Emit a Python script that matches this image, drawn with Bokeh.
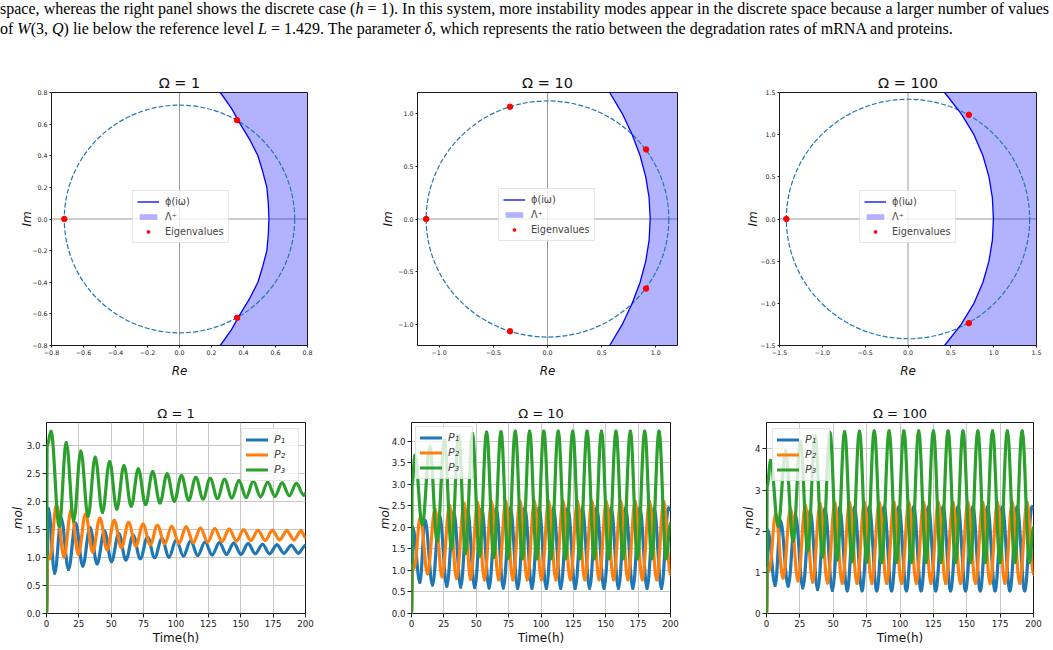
from bokeh.plotting import figure
from bokeh.models import Div, Span, FixedTicker, Legend, LegendItem, ColumnDataSource
from bokeh.layouts import column, row
from bokeh.embed import file_html
from bokeh.resources import INLINE

FONT = "DejaVu Sans"
C_P1, C_P2, C_P3 = "#1f77b4", "#ff7f0e", "#2ca02c"

# ---------------- eigenvalue / stability-region panels ----------------
titles = ["Ω = 1", "Ω = 10", "Ω = 100"]

lim_1 = 0.8
ticks_1 = [-0.8, -0.6, -0.4, -0.2, 0.0, 0.2, 0.4, 0.6, 0.8]
tick_labels_1 = ["−0.8", "−0.6", "−0.4", "−0.2", "0.0", "0.2", "0.4", "0.6", "0.8"]
radius_1 = 0.72
eig_re_1 = [-0.72, 0.36, 0.36]
eig_im_1 = [0.0, 0.625, -0.625]
phi_im_1 = [-0.8, -0.7, -0.6, -0.5, -0.4, -0.3, -0.2, -0.1, 0.0, 0.1, 0.2, 0.3, 0.4, 0.5, 0.6, 0.7, 0.8]
phi_re_1 = [0.255, 0.325, 0.38, 0.44, 0.49, 0.52, 0.546, 0.555, 0.559, 0.555, 0.546, 0.52, 0.49, 0.44, 0.38, 0.325, 0.255]

lim_10 = 1.2
ticks_10 = [-1.0, -0.5, 0.0, 0.5, 1.0]
tick_labels_10 = ["−1.0", "−0.5", "0.0", "0.5", "1.0"]
radius_10 = 1.12
eig_re_10 = [-1.12, -0.346, -0.346, 0.91, 0.91]
eig_im_10 = [0.0, 1.065, -1.065, 0.66, -0.66]
phi_im_10 = [-1.2, -1.0, -0.8, -0.6, -0.4, -0.2, 0.0, 0.2, 0.4, 0.6, 0.8, 1.0, 1.2]
phi_re_10 = [0.574, 0.69, 0.782, 0.855, 0.907, 0.938, 0.948, 0.938, 0.907, 0.855, 0.782, 0.69, 0.574]

lim_100 = 1.5
ticks_100 = [-1.5, -1.0, -0.5, 0.0, 0.5, 1.0, 1.5]
tick_labels_100 = ["−1.5", "−1.0", "−0.5", "0.0", "0.5", "1.0", "1.5"]
radius_100 = 1.42
eig_re_100 = [-1.42, 0.71, 0.71]
eig_im_100 = [0.0, 1.235, -1.235]
phi_im_100 = [-1.5, -1.25, -1.0, -0.75, -0.5, -0.25, 0.0, 0.25, 0.5, 0.75, 1.0, 1.25, 1.5]
phi_re_100 = [0.427, 0.62, 0.77, 0.875, 0.945, 0.985, 0.997, 0.985, 0.945, 0.875, 0.77, 0.62, 0.427]

# ---------------- protein time series (turning points of each trace) ----------------
# Omega = 1 (damped oscillations)
t_p1_1 = [0, 1.5, 6.3, 11.4, 17.0, 22.5, 28.0, 33.6, 39.1, 44.7, 50.2, 55.8, 61.3, 66.9, 72.4, 78.0, 83.5, 89.1,
          94.6, 100.2, 105.7, 111.3, 116.8, 122.4, 127.9, 133.5, 139.0, 144.6, 150.1, 155.7, 161.2, 166.8, 172.3,
          177.9, 183.4, 189.0, 194.5, 200.0]
p1_1 = [0, 1.88, 0.72, 1.70, 0.79, 1.62, 0.85, 1.54, 0.89, 1.48, 0.93, 1.43, 0.96, 1.40, 0.98, 1.37, 1.00, 1.34,
        1.01, 1.32, 1.03, 1.30, 1.04, 1.28, 1.05, 1.27, 1.06, 1.26, 1.06, 1.25, 1.07, 1.24, 1.07, 1.23, 1.08, 1.22,
        1.08, 1.22]
t_p2_1 = [0, 0.8, 2.5, 7.7, 13.5, 19.0, 24.6, 30.1, 35.7, 41.2, 46.8, 52.3, 57.9, 63.4, 69.0, 74.5, 80.1, 85.6,
          91.2, 96.7, 102.3, 107.8, 113.4, 118.9, 124.5, 130.0, 135.6, 141.1, 146.7, 152.2, 157.8, 163.3, 168.9,
          174.4, 180.0, 185.5, 191.1, 196.6, 200.0]
p2_1 = [0, 1.02, 0.98, 1.95, 1.01, 1.85, 1.06, 1.78, 1.10, 1.71, 1.14, 1.67, 1.18, 1.63, 1.21, 1.60, 1.23, 1.58,
        1.25, 1.56, 1.26, 1.55, 1.27, 1.53, 1.28, 1.52, 1.29, 1.51, 1.30, 1.50, 1.31, 1.49, 1.31, 1.49, 1.32, 1.48,
        1.32, 1.48, 1.36]
t_p3_1 = [0, 0.5, 3.5, 9.8, 15.3, 21.0, 26.5, 32.1, 37.6, 43.2, 48.7, 54.3, 59.8, 65.4, 70.9, 76.5, 82.0, 87.6,
          93.1, 98.7, 104.2, 109.8, 115.3, 120.9, 126.4, 132.0, 137.5, 143.1, 148.6, 154.2, 159.7, 165.3, 170.8,
          176.4, 181.9, 187.5, 193.0, 198.6, 200.0]
p3_1 = [0, 3.0, 3.26, 1.56, 3.06, 1.66, 2.91, 1.74, 2.80, 1.81, 2.72, 1.87, 2.65, 1.92, 2.59, 1.95, 2.54, 1.98,
        2.50, 2.01, 2.47, 2.03, 2.44, 2.05, 2.42, 2.06, 2.40, 2.07, 2.38, 2.08, 2.37, 2.09, 2.35, 2.10, 2.34, 2.11,
        2.33, 2.12, 2.15]

# Omega = 10 (sustained oscillations)
t_p1_10 = [0, 1.0, 6.5, 10.5, 16.2, 21.7, 27.3, 32.7, 38.0, 43.3, 48.8, 54.3, 59.9, 65.4, 70.9, 76.4, 82.0, 87.5,
           93.0, 98.5, 104.1, 109.6, 115.2, 120.8, 126.4, 131.9, 137.5, 143.0, 148.6, 154.2, 159.8, 165.3, 170.9,
           176.4, 181.9, 187.4, 193.0, 198.5, 200.0]
p1_10 = [0, 2.00, 0.72, 2.16, 0.66, 2.28, 0.63, 2.36, 0.61, 2.41, 0.60, 2.43, 0.59, 2.44, 0.59, 2.45, 0.58, 2.45,
         0.58, 2.45, 0.58, 2.45, 0.58, 2.45, 0.58, 2.45, 0.58, 2.45, 0.58, 2.45, 0.58, 2.45, 0.58, 2.45, 0.58, 2.45,
         0.58, 2.45, 2.40]
t_p2_10 = [0, 0.5, 2.0, 6.9, 12.3, 18.2, 23.6, 29.4, 34.8, 40.6, 45.6, 51.0, 56.3, 61.8, 67.3, 72.8, 78.3, 83.8,
           89.4, 94.9, 100.4, 105.9, 111.5, 117.0, 122.6, 128.2, 133.8, 139.3, 144.9, 150.4, 156.0, 161.6, 167.1,
           172.7, 178.2, 183.8, 189.3, 194.8, 200.0]
p2_10 = [0, 1.10, 1.06, 2.25, 0.92, 2.42, 0.85, 2.51, 0.81, 2.56, 0.79, 2.58, 0.78, 2.59, 0.78, 2.60, 0.78, 2.60,
         0.78, 2.60, 0.78, 2.60, 0.78, 2.60, 0.78, 2.60, 0.78, 2.60, 0.78, 2.60, 0.78, 2.60, 0.78, 2.60, 0.78, 2.60,
         0.78, 2.60, 0.90]
t_p3_10 = [0, 0.5, 2.6, 8.3, 14.2, 19.8, 25.4, 30.9, 36.4, 41.7, 47.0, 52.5, 58.0, 63.5, 69.1, 74.6, 80.1, 85.6,
           91.2, 96.7, 102.2, 107.7, 113.3, 118.9, 124.5, 130.0, 135.6, 141.1, 146.7, 152.3, 157.9, 163.4, 169.0,
           174.5, 180.1, 185.6, 191.1, 196.6, 200.0]
p3_10 = [0, 3.0, 3.67, 2.05, 3.87, 1.68, 4.02, 1.50, 4.13, 1.39, 4.18, 1.33, 4.21, 1.30, 4.22, 1.28, 4.23, 1.27,
         4.23, 1.27, 4.23, 1.27, 4.23, 1.27, 4.23, 1.27, 4.23, 1.27, 4.23, 1.27, 4.23, 1.27, 4.23, 1.27, 4.23, 1.27,
         4.23, 1.27, 2.10]

# Omega = 100 (sustained oscillations)
t_p1_100 = [0, 1.0, 6.5, 10.6, 16.2, 21.7, 27.2, 32.7, 38.3, 43.8, 49.3, 54.8, 60.4, 65.9, 71.5, 77.0, 82.6, 88.1,
            93.7, 99.2, 104.8, 110.3, 115.8, 121.3, 126.8, 132.3, 137.9, 143.5, 149.1, 154.6, 160.1, 165.6, 171.2,
            176.7, 182.3, 187.8, 193.4, 198.9, 200.0]
p1_100 = [0, 2.02, 0.68, 2.25, 0.66, 2.40, 0.62, 2.50, 0.58, 2.55, 0.56, 2.57, 0.55, 2.58, 0.55, 2.59, 0.55, 2.59,
          0.55, 2.59, 0.55, 2.59, 0.55, 2.59, 0.55, 2.59, 0.55, 2.59, 0.55, 2.59, 0.55, 2.59, 0.55, 2.59, 0.55, 2.59,
          0.55, 2.59, 2.56]
t_p2_100 = [0, 0.5, 2.0, 6.9, 12.4, 18.0, 23.6, 29.1, 34.6, 40.1, 45.7, 51.2, 56.7, 62.2, 67.8, 73.3, 78.9, 84.4,
            90.0, 95.5, 101.1, 106.6, 112.2, 117.7, 123.2, 128.7, 134.2, 139.7, 145.3, 150.9, 156.5, 162.0, 167.5,
            173.0, 178.6, 184.1, 189.7, 195.2, 200.0]
p2_100 = [0, 1.10, 1.05, 2.42, 0.86, 2.55, 0.79, 2.63, 0.76, 2.67, 0.74, 2.69, 0.73, 2.70, 0.73, 2.70, 0.73, 2.70,
          0.73, 2.70, 0.73, 2.70, 0.73, 2.70, 0.73, 2.70, 0.73, 2.70, 0.73, 2.70, 0.73, 2.70, 0.73, 2.70, 0.73, 2.70,
          0.73, 2.70, 0.95]
t_p3_100 = [0, 0.5, 3.1, 8.7, 14.3, 19.9, 25.4, 30.9, 36.4, 42.0, 47.5, 53.0, 58.5, 64.1, 69.6, 75.2, 80.7, 86.3,
            91.8, 97.4, 102.9, 108.5, 114.0, 119.5, 125.0, 130.5, 136.0, 141.6, 147.2, 152.8, 158.3, 163.8, 169.3,
            174.9, 180.4, 186.0, 191.5, 197.0, 200.0]
p3_100 = [0, 3.1, 3.72, 2.12, 3.95, 1.75, 4.18, 1.52, 4.33, 1.38, 4.40, 1.30, 4.42, 1.26, 4.43, 1.25, 4.44, 1.24,
          4.44, 1.24, 4.44, 1.24, 4.44, 1.24, 4.44, 1.24, 4.44, 1.24, 4.44, 1.24, 4.44, 1.24, 4.44, 1.24, 4.44, 1.24,
          4.44, 1.24, 2.10]

time_ticks = [0, 25, 50, 75, 100, 125, 150, 175, 200]
time_tick_labels = ["0", "25", "50", "75", "100", "125", "150", "175", "200"]
mol_ticks_1 = [0.0, 0.5, 1.0, 1.5, 2.0, 2.5, 3.0]
mol_labels_1 = ["0.0", "0.5", "1.0", "1.5", "2.0", "2.5", "3.0"]
mol_ticks_10 = [0.0, 0.5, 1.0, 1.5, 2.0, 2.5, 3.0, 3.5, 4.0]
mol_labels_10 = ["0.0", "0.5", "1.0", "1.5", "2.0", "2.5", "3.0", "3.5", "4.0"]
mol_ticks_100 = [0, 1, 2, 3, 4]
mol_labels_100 = ["0", "1", "2", "3", "4"]
series_labels = ["P₁", "P₂", "P₃"]

# fraction of each half-swing used for the horizontal Bezier handles (cosine-like swing)
HANDLE = 0.364


def style_axes(p, xticks, xlabels, yticks, ylabels, tick_px, tick_len):
    for ax, tk, lb in ((p.xaxis, xticks, xlabels), (p.yaxis, yticks, ylabels)):
        ax.ticker = FixedTicker(ticks=tk)
        ax.major_label_overrides = dict(zip(tk, lb))
        ax.minor_tick_line_color = None
        ax.major_tick_in = 0
        ax.major_tick_out = tick_len
        ax.major_tick_line_color = "#222222"
        ax.axis_line_color = None
        ax.major_label_text_font = FONT
        ax.major_label_text_font_size = tick_px
        ax.major_label_text_color = "#1a1a1a"
        ax.major_label_standoff = 2
        ax.axis_label_text_font = FONT
        ax.axis_label_text_color = "#111111"
    p.outline_line_color = "#1a1a1a"
    p.outline_line_width = 1


def make_figure(title, w, h, borders, xr, yr, title_px):
    l, r, t, b = borders
    p = figure(width=w, height=h, x_range=xr, y_range=yr, output_backend="svg",
               toolbar_location=None, min_border_left=l, min_border_right=r,
               min_border_top=t, min_border_bottom=b, title=title, margin=(0, 0, 0, 0))
    p.title.align = "center"
    p.title.text_font = FONT
    p.title.text_font_style = "normal"
    p.title.text_font_size = title_px
    p.title.text_color = "#111111"
    p.title.standoff = 3
    p.background_fill_color = "white"
    p.border_fill_color = "white"
    return p


def phase_panel(title, lim, ticks, labels, radius, eig_re, eig_im, phi_re, phi_im, w, h, borders,
                legend_xy, ylab_standoff):
    p = make_figure(title, w, h, borders, (-lim, lim), (-lim, lim), "14.5px")
    p.xgrid.visible = False
    p.ygrid.visible = False
    style_axes(p, ticks, labels, ticks, labels, "6.3px", 2)
    region = p.harea(y=phi_im, x1=phi_re, x2=[lim] * len(phi_im), fill_color="blue", fill_alpha=0.3)
    for dim in ("width", "height"):
        p.add_layout(Span(location=0, dimension=dim, line_color="black", line_alpha=0.45,
                          line_width=0.9, level="underlay"))
    p.ellipse(x=0, y=0, width=2 * radius, height=2 * radius, fill_color=None,
              line_color=C_P1, line_width=1.2, line_dash="5 2")
    curve = p.line(phi_re, phi_im, line_color="blue", line_width=1.3)
    dots = p.scatter(eig_re, eig_im, size=5.5, color="red")
    legend = Legend(items=[LegendItem(label="ϕ(iω)", renderers=[curve]),
                           LegendItem(label="Λ⁺", renderers=[region]),
                           LegendItem(label="Eigenvalues", renderers=[dots])],
                    location=legend_xy)
    legend.label_text_font = FONT
    legend.label_text_font_size = "9.7px"
    legend.label_height = 13
    legend.glyph_height = 7
    legend.glyph_width = 22
    legend.label_standoff = 6
    legend.spacing = 2
    legend.padding = 4
    legend.margin = 0
    legend.border_line_color = "#cccccc"
    legend.background_fill_alpha = 0.8
    p.add_layout(legend)
    p.xaxis.axis_label = "Re"
    p.yaxis.axis_label = "Im"
    for ax in (p.xaxis, p.yaxis):
        ax.axis_label_text_font_style = "italic"
        ax.axis_label_text_font_size = "12px"
    p.xaxis.axis_label_standoff = 6
    p.yaxis.axis_label_standoff = ylab_standoff
    return p


def swing_source(t, v):
    """One cubic segment per swing between consecutive turning points."""
    assert len(t) == len(v)
    x0, x1, y0, y1 = t[:-1], t[1:], v[:-1], v[1:]
    cx0 = [a + HANDLE * (b - a) for a, b in zip(x0, x1)]
    cx1 = [b - HANDLE * (b - a) for a, b in zip(x0, x1)]
    return ColumnDataSource(dict(x0=x0, y0=y0, x1=x1, y1=y1, cx0=cx0, cy0=y0, cx1=cx1, cy1=y1))


def series_panel(title, ymax, yticks, ylabels, series, w, h, borders, loc, margin, ylab_standoff):
    p = make_figure(title, w, h, borders, (0, 200), (0, ymax), "13px")
    style_axes(p, time_ticks, time_tick_labels, yticks, ylabels, "8.7px", 4)
    for g in (p.xgrid, p.ygrid):
        g.grid_line_color = "#c8c8c8"
        g.grid_line_width = 1
    items = []
    for (t, v), color, lab in zip(series, (C_P1, C_P2, C_P3), series_labels):
        r = p.bezier(x0="x0", y0="y0", x1="x1", y1="y1", cx0="cx0", cy0="cy0", cx1="cx1", cy1="cy1",
                     source=swing_source(t, v), line_color=color, line_width=3.2, line_cap="round")
        items.append(LegendItem(label=lab, renderers=[r]))
    legend = Legend(items=items, location=loc)
    legend.label_text_font = FONT
    legend.label_text_font_size = "11px"
    legend.label_text_font_style = "italic"
    legend.label_height = 13
    legend.glyph_height = 13
    legend.glyph_width = 22
    legend.label_standoff = 6
    legend.spacing = 2
    legend.padding = 4
    legend.margin = margin
    legend.border_line_color = "#cccccc"
    legend.background_fill_alpha = 0.8
    p.add_layout(legend)
    p.xaxis.axis_label = "Time(h)"
    p.xaxis.axis_label_text_font_style = "normal"
    p.yaxis.axis_label = "mol"
    p.yaxis.axis_label_text_font_style = "italic"
    for ax in (p.xaxis, p.yaxis):
        ax.axis_label_text_font_size = "12px"
    p.xaxis.axis_label_standoff = 1
    p.yaxis.axis_label_standoff = ylab_standoff
    return p


f1 = phase_panel(titles[0], lim_1, ticks_1, tick_labels_1, radius_1, eig_re_1, eig_im_1,
                 phi_re_1, phi_im_1, 360, 340, (51, 53, 52, 33), (81, 102), -5)
f2 = phase_panel(titles[1], lim_10, ticks_10, tick_labels_10, radius_10, eig_re_10, eig_im_10,
                 phi_re_10, phi_im_10, 360, 340, (57, 43, 47, 34), (81, 104), 0)
f3 = phase_panel(titles[2], lim_100, ticks_100, tick_labels_100, radius_100, eig_re_100, eig_im_100,
                 phi_re_100, phi_im_100, 333, 340, (59, 17, 52, 33), (80, 102), -3)

f4 = series_panel(titles[0], 3.42, mol_ticks_1, mol_labels_1,
                  [(t_p1_1, p1_1), (t_p2_1, p2_1), (t_p3_1, p3_1)],
                  360, 270, (46, 55, 42, 36), "top_right", 6, -1)
f5 = series_panel(titles[1], 4.43, mol_ticks_10, mol_labels_10,
                  [(t_p1_10, p1_10), (t_p2_10, p2_10), (t_p3_10, p3_10)],
                  360, 270, (51, 50, 42, 36), "top_left", 4, -3)
f6 = series_panel(titles[2], 4.64, mol_ticks_100, mol_labels_100,
                  [(t_p1_100, p1_100), (t_p2_100, p2_100), (t_p3_100, p3_100)],
                  333, 270, (46, 20, 36, 37), "top_left", 6, -4)

header_html = (
    '<div style="font-family:\'Liberation Serif\',\'Times New Roman\',serif;font-size:16px;'
    'line-height:20px;color:#000;margin:-1px 0 0 0;padding:0;width:1049px;overflow:hidden;">'
    '<div style="white-space:nowrap;text-align:justify;text-align-last:justify;">space, whereas the right '
    'panel shows the discrete case (<i>h</i> = 1). In this system, more instability modes appear in the '
    'discrete space because a larger number of values</div>'
    '<div style="white-space:nowrap;">of <i>W</i>(3, <i>Q</i>) lie below the reference level <i>L</i> = 1.429. '
    'The parameter <i>δ</i>, which represents the ratio between the degradation rates of mRNA and proteins.</div>'
    '</div>'
)
header = Div(text=header_html, width=1053, height=40, margin=(0, 0, 0, 0))

layout = column(header, row(f1, f2, f3), row(f4, f5, f6))
open("out.html", "w").write(file_html(layout, INLINE))
